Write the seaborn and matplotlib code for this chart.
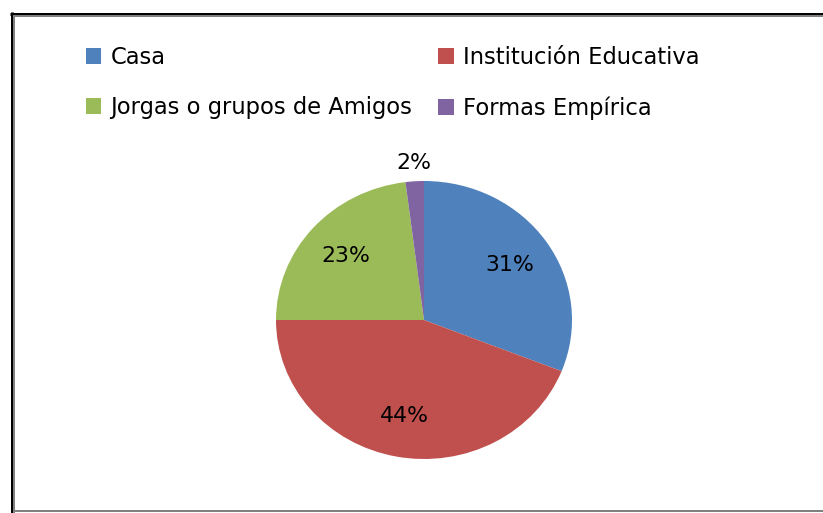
import matplotlib
matplotlib.use("Agg")
import matplotlib.pyplot as plt
import seaborn as sns
from matplotlib.lines import Line2D
from matplotlib.patches import Patch

categories = ["Casa", "Institución Educativa", "Jorgas o grupos de Amigos", "Formas Empírica"]
values = [31, 44, 23, 2]
colors = ["#4F81BD", "#C0504D", "#9BBB59", "#8064A2"]

sns.set_theme(style="white")
plt.rcParams["font.family"] = ["DejaVu Sans"]
palette = sns.color_palette(colors)

W, H = 823, 513
fig = plt.figure(figsize=(W / 100, H / 100), dpi=100)
fig.patch.set_facecolor("white")

# pie axes (slightly stretched horizontally, as in the reference)
ax = fig.add_axes([276 / W, 1 - 459 / H, 296 / W, 278 / H])
wedges, texts, autotexts = ax.pie(
    values,
    colors=palette,
    startangle=90,
    counterclock=False,
    autopct=lambda p: f"{p:.0f}%",
    pctdistance=0.7,
    wedgeprops=dict(linewidth=0),
    textprops=dict(fontsize=15.8, color="black"),
)
ax.set_aspect("auto")
ax.set_xlim(-1, 1)
ax.set_ylim(-1, 1)
ax.axis("off")

# small slice: label outside
for v, t in zip(values, autotexts):
    if v < 5:
        x, y = t.get_position()
        t.set_position((x * 1.13 / 0.7, y * 1.13 / 0.7))

handles = [Patch(facecolor=c, edgecolor="none") for c in palette]
# legend fills column-wise: reorder so rows read Casa | Institución, Jorgas | Formas
order = [0, 2, 1, 3]
fig.legend(
    [handles[i] for i in order], [categories[i] for i in order],
    loc="upper left", bbox_to_anchor=(86 / W, 1 - 46 / H),
    ncol=2, frameon=False, fontsize=16.3, labelcolor="black",
    handlelength=0.68, handleheight=0.68, handletextpad=0.4,
    columnspacing=1.15, labelspacing=1.2, borderpad=0, borderaxespad=0,
)

# frame lines
def px_line(x0, y0, x1, y1, color, lw_px):
    fig.add_artist(Line2D([x0 / W, x1 / W], [1 - y0 / H, 1 - y1 / H],
                          color=color, linewidth=lw_px * 0.72,
                          solid_capstyle="butt", transform=fig.transFigure))

px_line(11.5, 12, 11.5, H, "black", 3)
px_line(10, 13.5, W, 13.5, "black", 3)
px_line(14, 15, 14, H, "#808080", 2)
px_line(13, 16, W, 16, "#808080", 2)
px_line(13, 511, W, 511, "#808080", 2)

fig.savefig("out.png", dpi=100, facecolor="white")
